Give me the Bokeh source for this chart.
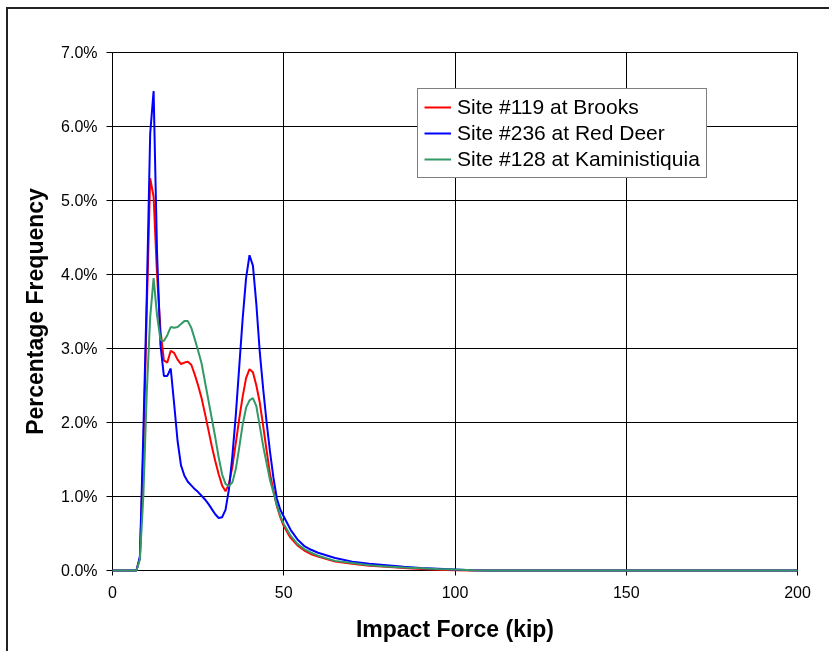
from bokeh.plotting import figure
from bokeh.models import FixedTicker, Legend, LegendItem, Range1d
from bokeh.embed import file_html
from bokeh.resources import INLINE

# Impact force bins (kip) and percentage frequency per site
force_kip = [0, 7, 8, 9, 10, 11, 12, 13, 14, 15, 16, 17, 18, 19, 20, 21, 22, 23, 24, 25,
             26, 27, 28, 29, 30, 31, 32, 33, 34, 35, 36, 37, 38, 39, 40, 41, 42, 43, 44, 45,
             46, 47, 48, 49, 50, 52, 54, 56, 58, 60, 65, 70, 75, 80, 85, 90, 95, 100, 105,
             110, 200]

brooks_119 = [0, 0, 0.17, 1.6, 3.5, 5.3, 5.05, 4.0, 3.25, 2.84, 2.81, 2.97, 2.94, 2.85, 2.79,
              2.81, 2.82, 2.78, 2.65, 2.5, 2.33, 2.12, 1.9, 1.68, 1.48, 1.3, 1.15, 1.07, 1.17,
              1.4, 1.72, 2.05, 2.35, 2.6, 2.72, 2.68, 2.5, 2.27, 1.95, 1.62, 1.3, 1.08, 0.87,
              0.72, 0.6, 0.44, 0.34, 0.27, 0.22, 0.19, 0.12, 0.09, 0.065, 0.05, 0.035, 0.02,
              0.01, 0.005, 0, 0, 0]

red_deer_236 = [0, 0, 0.19, 1.85, 3.7, 5.9, 6.48, 4.3, 3.05, 2.63, 2.63, 2.73, 2.25, 1.75, 1.42,
                1.28, 1.2, 1.15, 1.1, 1.06, 1.01, 0.96, 0.9, 0.83, 0.76, 0.71, 0.72, 0.82, 1.1,
                1.55, 2.1, 2.75, 3.4, 3.95, 4.26, 4.12, 3.6, 2.95, 2.45, 2.0, 1.6, 1.25, 0.97,
                0.82, 0.73, 0.55, 0.42, 0.33, 0.28, 0.24, 0.17, 0.12, 0.09, 0.07, 0.05, 0.035,
                0.025, 0.015, 0.005, 0, 0]

kaministiquia_128 = [0, 0, 0.15, 1.0, 2.4, 3.42, 3.95, 3.45, 3.12, 3.1, 3.18, 3.29, 3.28, 3.29,
                     3.33, 3.37, 3.37, 3.28, 3.13, 2.97, 2.8, 2.55, 2.3, 2.05, 1.8, 1.53, 1.3,
                     1.17, 1.14, 1.19, 1.37, 1.66, 1.97, 2.2, 2.3, 2.33, 2.22, 1.95, 1.68, 1.45,
                     1.22, 1.05, 0.88, 0.74, 0.63, 0.47, 0.36, 0.29, 0.24, 0.2, 0.13, 0.1, 0.07,
                     0.055, 0.04, 0.03, 0.02, 0.012, 0.005, 0, 0]

series_names = ["Site #119 at Brooks", "Site #236 at Red Deer", "Site #128 at Kaministiquia"]
series_colors = ["#FF0000", "#0000FF", "#339966"]

x_ticks = [0, 50, 100, 150, 200]
x_tick_labels = ["0", "50", "100", "150", "200"]
y_ticks = [0, 1, 2, 3, 4, 5, 6, 7]
y_tick_labels = ["0.0%", "1.0%", "2.0%", "3.0%", "4.0%", "5.0%", "6.0%", "7.0%"]

FONT = "Liberation Sans"

# chart area framed on the left and top, running past the right and bottom page edges
p = figure(width=827, height=648, output_backend="svg", toolbar_location=None,
           x_range=Range1d(0, 200), y_range=Range1d(0, 7),
           min_border_left=104, min_border_right=38, min_border_top=43, min_border_bottom=87)
p.styles = {"position": "fixed", "left": "6px", "top": "7px",
            "border-left": "2px solid #222222", "border-top": "2px solid #222222"}
p.background_fill_color = "white"
p.border_fill_color = "white"
p.outline_line_color = "black"
p.outline_line_width = 1

# axes
p.xaxis.ticker = FixedTicker(ticks=x_ticks)
p.xaxis.major_label_overrides = {t: s for t, s in zip(x_ticks, x_tick_labels)}
p.yaxis.ticker = FixedTicker(ticks=y_ticks)
p.yaxis.major_label_overrides = {t: s for t, s in zip(y_ticks, y_tick_labels)}
p.xaxis.axis_label = "Impact Force (kip)"
p.yaxis.axis_label = "Percentage Frequency"
for ax in (p.xaxis, p.yaxis):
    ax.axis_line_color = "black"
    ax.axis_line_width = 1
    ax.major_tick_line_color = "black"
    ax.major_tick_in = 0
    ax.minor_tick_in = 0
    ax.minor_tick_out = 0
    ax.major_label_text_font = FONT
    ax.major_label_text_font_size = "16px"
    ax.major_label_text_color = "black"
    ax.axis_label_text_font = FONT
    ax.axis_label_text_font_size = "23px"
    ax.axis_label_text_font_style = "bold"
    ax.axis_label_text_color = "black"
p.xaxis.major_tick_out = 5
p.yaxis.major_tick_out = 6
p.xaxis.major_label_standoff = 10
p.yaxis.major_label_standoff = 9
p.xaxis.axis_label_standoff = 15
p.yaxis.axis_label_standoff = 10

# grid
for g in (p.xgrid, p.ygrid):
    g.grid_line_color = "black"
    g.grid_line_width = 1

# curves, drawn above the axis line so the zero stretch stays visible
renderers = []
for ys, color in zip([brooks_119, red_deer_236, kaministiquia_128], series_colors):
    r = p.line(force_kip, ys, line_color=color, line_width=2, level="overlay")
    renderers.append(r)

legend = Legend(items=[LegendItem(label=n, renderers=[r]) for n, r in zip(series_names, renderers)],
                location=(305, 392))
legend.label_text_font = FONT
legend.label_text_font_size = "21px"
legend.label_text_color = "black"
legend.glyph_width = 27
legend.glyph_height = 20
legend.label_height = 20
legend.label_standoff = 6
legend.spacing = 2
legend.padding = 6
legend.margin = 0
legend.border_line_color = "black"
legend.border_line_width = 1
legend.background_fill_color = "white"
legend.background_fill_alpha = 1
p.add_layout(legend)

open("out.html", "w").write(file_html(p, INLINE))
